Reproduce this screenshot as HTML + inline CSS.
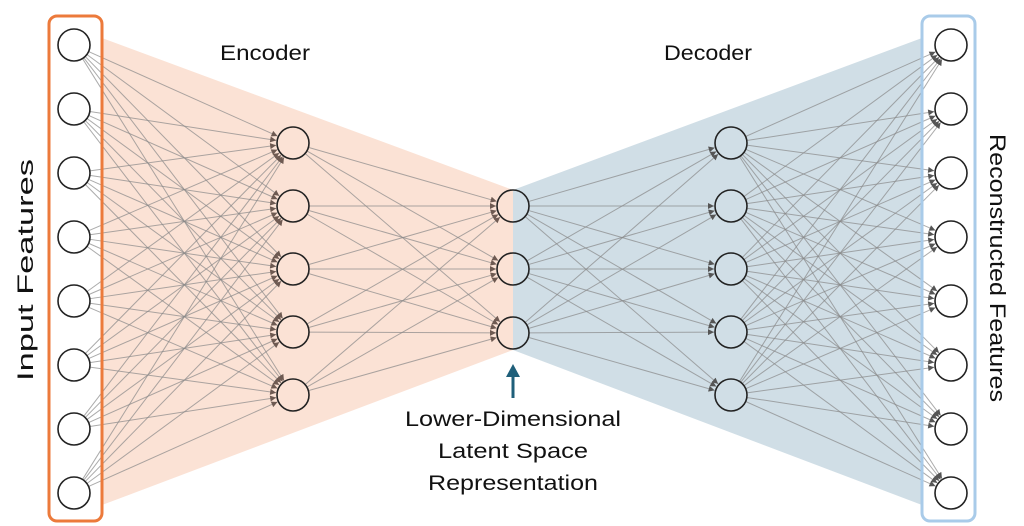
<!DOCTYPE html>
<html><head><meta charset="utf-8"><style>
html,body{margin:0;padding:0;background:#fff;width:1024px;height:526px;overflow:hidden}
svg text{font-family:"Liberation Sans",sans-serif;fill:#111}
</style></head><body>
<svg id="s" width="1024" height="526" viewBox="0 0 1024 526" xmlns="http://www.w3.org/2000/svg">
<defs>
<marker id="a1" viewBox="0 0 10 10" refX="10" refY="5" markerWidth="7" markerHeight="6" markerUnits="userSpaceOnUse" orient="auto"><path d="M0,0L10,5L0,10z" fill="#6e5a52"/></marker>
<marker id="a2" viewBox="0 0 10 10" refX="10" refY="5" markerWidth="7" markerHeight="6" markerUnits="userSpaceOnUse" orient="auto"><path d="M0,0L10,5L0,10z" fill="#555"/></marker>
</defs>
<polygon points="102,38 513,190 513,350 102,505" fill="#fbe2d5"/>
<polygon points="513,190 922,38 922,505 513,350" fill="#d0dee6"/>
<g id="lines"></g>
<g id="nodes"></g>
<rect x="49" y="16" width="53" height="505" rx="8" fill="none" stroke="#ec7a3b" stroke-width="3"/>
<rect x="922" y="16" width="53" height="505" rx="8" fill="none" stroke="#a9cbe9" stroke-width="3"/>
<text x="265" y="60" font-size="21" text-anchor="middle" textLength="90" lengthAdjust="spacingAndGlyphs">Encoder</text>
<text x="708" y="60" font-size="21" text-anchor="middle" textLength="88" lengthAdjust="spacingAndGlyphs">Decoder</text>
<text transform="translate(33,270) rotate(-90)" font-size="22" text-anchor="middle" textLength="222" lengthAdjust="spacingAndGlyphs">Input Features</text>
<text transform="translate(990,268) rotate(90)" font-size="22" text-anchor="middle" textLength="268" lengthAdjust="spacingAndGlyphs">Reconstructed Features</text>
<line x1="513" y1="398" x2="513" y2="374" stroke="#1f5f7a" stroke-width="3"/>
<path d="M506,377 L513,364 L520,377z" fill="#1f5f7a"/>
<text x="513" y="426" font-size="21" text-anchor="middle" textLength="216" lengthAdjust="spacingAndGlyphs">Lower-Dimensional</text>
<text x="513" y="458" font-size="21" text-anchor="middle" textLength="150" lengthAdjust="spacingAndGlyphs">Latent Space</text>
<text x="513" y="490" font-size="21" text-anchor="middle" textLength="170" lengthAdjust="spacingAndGlyphs">Representation</text>
</svg>
<script>
var NS="http://www.w3.org/2000/svg",r=16;
var io=[45,109,173,237,301,365,429,493],h=[143,206,269,332,395],l=[206,269,333];
var L=[[74,io],[293,h],[513,l],[731,h],[951,io]];
var gl=document.getElementById('lines'),gn=document.getElementById('nodes');
for(var k=0;k<4;k++){var A=L[k],B=L[k+1];
 A[1].forEach(function(y1){B[1].forEach(function(y2){
  var x1=A[0],x2=B[0],dx=x2-x1,dy=y2-y1,d=Math.sqrt(dx*dx+dy*dy);
  var e=document.createElementNS(NS,'line');
  e.setAttribute('x1',x1+dx/d*r);e.setAttribute('y1',y1+dy/d*r);
  e.setAttribute('x2',x2-dx/d*(r+1));e.setAttribute('y2',y2-dy/d*(r+1));
  e.setAttribute('stroke','#888');e.setAttribute('stroke-opacity','0.7');e.setAttribute('stroke-width','1');
  e.setAttribute('marker-end',k<2?'url(#a1)':'url(#a2)');gl.appendChild(e);});});}
L.forEach(function(c){c[1].forEach(function(y){var e=document.createElementNS(NS,'circle');
 e.setAttribute('cx',c[0]);e.setAttribute('cy',y);e.setAttribute('r',r);
 e.setAttribute('fill',(c[0]==74||c[0]==951)?'#fff':'none');
 e.setAttribute('stroke','#222');e.setAttribute('stroke-width','1.6');gn.appendChild(e);});});
</script>
</body></html>
